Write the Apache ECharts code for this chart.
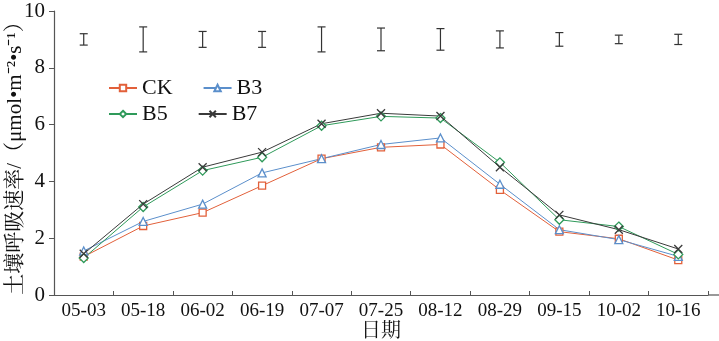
<!DOCTYPE html>
<html><head><meta charset="utf-8">
<script src="https://cdn.jsdelivr.net/npm/echarts@6/dist/echarts.min.js"></script>
<style>html,body{margin:0;padding:0;background:#fff}#c{width:719px;height:341px}</style>
</head><body><div id="c"></div>
<script>
const categories = ['05-03','05-18','06-02','06-19','07-07','07-25','08-12','08-29','09-15','10-02','10-16'];
const CK = [1.35, 2.43, 2.9, 3.85, 4.8, 5.2, 5.3, 3.7, 2.23, 1.98, 1.23];
const B3 = [1.55, 2.59, 3.2, 4.3, 4.8, 5.3, 5.53, 3.9, 2.3, 1.95, 1.36];
const B5 = [1.3, 3.1, 4.38, 4.85, 5.96, 6.29, 6.23, 4.67, 2.65, 2.41, 1.43];
const B7 = [1.45, 3.2, 4.5, 5.03, 6.03, 6.4, 6.3, 4.5, 2.82, 2.3, 1.62];
const errCenter = [9, 9, 9, 9, 9, 9, 9, 9, 9, 9, 9];
const errHalf = [0.2, 0.44, 0.28, 0.28, 0.44, 0.4, 0.38, 0.3, 0.24, 0.15, 0.18];
const yTicks = [0, 2, 4, 6, 8, 10];

const FONT = 'Liberation Serif, Noto Serif CJK SC, Noto Sans CJK SC, serif';
const chart = echarts.init(document.getElementById('c'), null, {renderer:'canvas'});

function mkSeries(name, data, color, symbol, size){
  return {
    name, type:'line', data, symbol, symbolSize:size,
    lineStyle:{color, width:1},
    itemStyle:{color:'#fff', borderColor:color, borderWidth:1.3},
    emphasis:{disabled:true}, z:3
  };
}
const xPath = 'path://M0,0L10,10M10,0L0,10';

chart.setOption({
  animation:false,
  textStyle:{fontFamily:FONT},
  grid:{left:54, right:11, top:11, bottom:46, containLabel:false, outerBoundsMode:'none'},
  legend:[
    {data:['CK','B3'], left:103, top:72, itemWidth:28, itemHeight:8, itemGap:30,
     textStyle:{fontFamily:FONT, fontSize:22, color:'#111'}},
    {data:['B5','B7'], left:103, top:98, itemWidth:28, itemHeight:8, itemGap:30,
     textStyle:{fontFamily:FONT, fontSize:22, color:'#111'}}
  ],
  xAxis:{
    type:'category', data:categories, boundaryGap:true,
    name:'日期', nameLocation:'middle', nameGap:27, nameMoveOverlap:false,
    nameTextStyle:{fontFamily:FONT, fontSize:20, color:'#111'},
    axisLine:{lineStyle:{color:'#555', width:1.2}},
    axisTick:{show:true, inside:true, length:4, lineStyle:{color:'#555'}},
    axisLabel:{fontFamily:FONT, fontSize:19, color:'#111', margin:7, interval:0}
  },
  yAxis:{
    type:'value', min:0, max:10, interval:2,
    name:'土壤呼吸速率/（μmol•m⁻²•s⁻¹）', nameLocation:'middle', nameGap:28, nameRotate:90,
    nameMoveOverlap:false,
    nameTextStyle:{fontFamily:FONT, fontSize:21, color:'#111'},
    axisLine:{show:true, lineStyle:{color:'#555', width:1.2}},
    axisTick:{show:true, inside:false, length:5, lineStyle:{color:'#555'}},
    splitLine:{show:false},
    axisLabel:{fontFamily:FONT, fontSize:21, color:'#111', margin:9,
      formatter:v=> yTicks.includes(v) ? String(v) : ''}
  },
  graphic:[{type:'line', shape:{x1:708, y1:295, x2:719, y2:295}, style:{stroke:'#555', lineWidth:1.2}}],
  series:[
    mkSeries('CK', CK, '#e2603a', 'rect', 7),
    mkSeries('B3', B3, '#5b8fcb', 'triangle', 8),
    mkSeries('B5', B5, '#2f9a5a', 'diamond', 9),
    mkSeries('B7', B7, '#3a3a3a', xPath, 8),
    {
      type:'custom', name:'err', silent:true, z:2,
      data: categories.map((c,i)=>[i, errCenter[i], errHalf[i]]),
      renderItem:(params, api)=>{
        const i = api.value(0), c = api.value(1), h = api.value(2);
        const top = api.coord([i, c + h]);
        const bot = api.coord([i, c - h]);
        const w = 4;
        const st = {stroke:'#333', lineWidth:1.2};
        return {type:'group', children:[
          {type:'line', shape:{x1:top[0], y1:top[1], x2:bot[0], y2:bot[1]}, style:st},
          {type:'line', shape:{x1:top[0]-w, y1:top[1], x2:top[0]+w, y2:top[1]}, style:st},
          {type:'line', shape:{x1:bot[0]-w, y1:bot[1], x2:bot[0]+w, y2:bot[1]}, style:st}
        ]};
      }
    }
  ]
});
</script></body></html>
